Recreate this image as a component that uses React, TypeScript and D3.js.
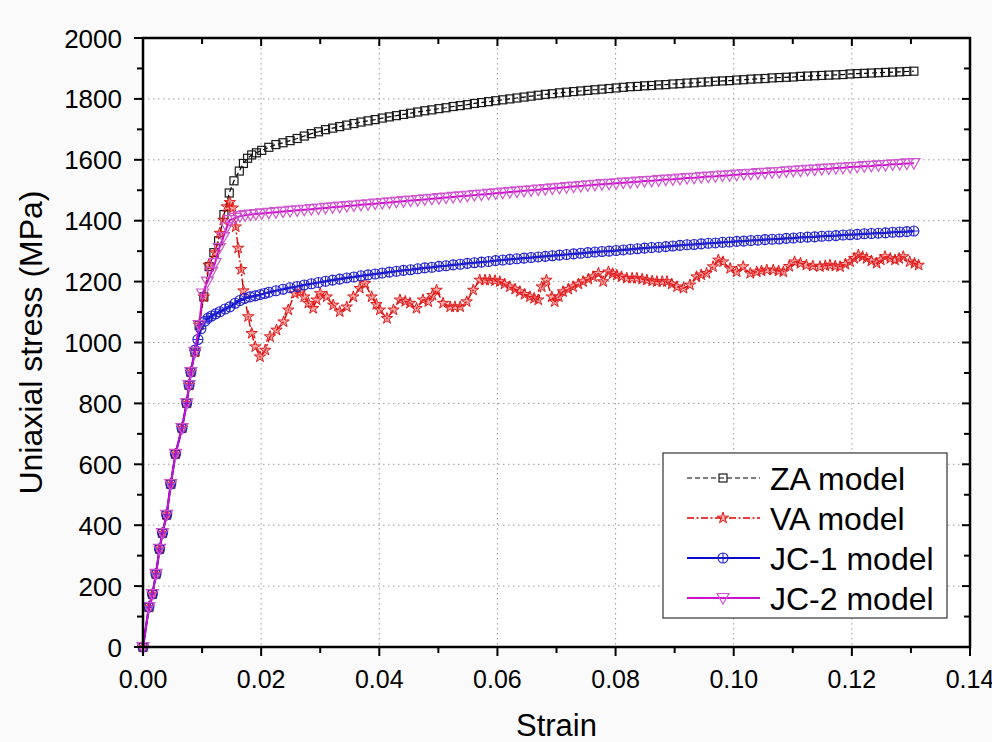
import React from 'react';
import * as d3 from 'd3';

// ---------- data ----------
const elasticStrain = [0, 0.001, 0.0016, 0.0022, 0.0028, 0.0033, 0.004, 0.0047, 0.0055, 0.0066, 0.0074, 0.0078, 0.0081, 0.0088, 0.0095];
const elasticStress = [0, 131, 174, 240, 322, 374, 434, 535, 634, 719, 801, 860, 903, 969, 1057];

const zaEarly: [number, number][] = [
  [0.0103, 1150], [0.0112, 1249], [0.012, 1295], [0.0128, 1334], [0.0137, 1420], [0.0146, 1491], [0.0154, 1531],
  [0.0163, 1563], [0.017, 1588], [0.0177, 1605], [0.0184, 1616], [0.0192, 1623], [0.0201, 1631],
];
const jc1Early: [number, number][] = [
  [0.0088, 975], [0.0093, 1010], [0.0098, 1045], [0.0105, 1070], [0.011, 1080], [0.0116, 1087], [0.0123, 1094], [0.013, 1101], [0.0139, 1110],
  [0.0147, 1117], [0.0156, 1129], [0.0164, 1138], [0.0172, 1145], [0.0181, 1150], [0.019, 1153], [0.0198, 1157], [0.0206, 1161],
];
const jc2Early: [number, number][] = [
  [0.0101, 1161], [0.0109, 1200], [0.0116, 1232], [0.0122, 1261], [0.0129, 1310], [0.0136, 1346], [0.0142, 1379],
  [0.0147, 1402], [0.0156, 1409], [0.0164, 1415], [0.0173, 1418], [0.0182, 1420], [0.0191, 1422], [0.0201, 1424],
];
const vaPoints: [number, number][] = [
  [0.0103, 1150], [0.0111, 1254], [0.0122, 1295], [0.013, 1359], [0.0136, 1402], [0.0142, 1446], [0.0147, 1460], [0.0152, 1442],
  [0.0157, 1380], [0.0161, 1310], [0.0166, 1240], [0.017, 1170], [0.0178, 1085], [0.0184, 1030], [0.019, 986], [0.0198, 953],
  [0.0207, 975], [0.0215, 1019], [0.0226, 1041], [0.0238, 1068], [0.0246, 1107], [0.0257, 1161], [0.0266, 1167], [0.0273, 1150],
  [0.028, 1129], [0.0288, 1112], [0.0294, 1140], [0.03, 1161], [0.0311, 1150], [0.0322, 1123], [0.0333, 1101], [0.0345, 1117],
  [0.0356, 1150], [0.0367, 1178], [0.0376, 1194], [0.0387, 1150], [0.0395, 1125], [0.0401, 1107], [0.0413, 1079], [0.0424, 1107],
  [0.0435, 1140], [0.0444, 1135], [0.0452, 1129], [0.0463, 1112], [0.0474, 1140], [0.0483, 1134], [0.049, 1155], [0.0497, 1172],
  [0.0508, 1129], [0.052, 1117], [0.0528, 1117], [0.0537, 1117], [0.0548, 1134], [0.0559, 1172], [0.057, 1205], [0.0579, 1205],
  [0.0587, 1205], [0.0596, 1203], [0.0604, 1200], [0.0612, 1192], [0.0621, 1183], [0.063, 1175], [0.0638, 1167], [0.0646, 1158],
  [0.0655, 1150], [0.0662, 1145], [0.0669, 1140], [0.0675, 1183], [0.0683, 1205], [0.0692, 1150], [0.0697, 1134], [0.0704, 1150],
  [0.0711, 1167], [0.072, 1175], [0.0728, 1183], [0.0737, 1192], [0.0745, 1200], [0.0754, 1208], [0.0762, 1216], [0.0771, 1227],
  [0.0779, 1200], [0.0788, 1232], [0.0795, 1226], [0.0802, 1221], [0.081, 1216], [0.0819, 1211], [0.0828, 1211], [0.0836, 1211],
  [0.0845, 1208], [0.0853, 1205], [0.0862, 1202], [0.087, 1200], [0.0879, 1200], [0.0887, 1200], [0.0895, 1192], [0.0904, 1183],
  [0.0915, 1178], [0.0926, 1189], [0.0937, 1216], [0.0945, 1222], [0.0954, 1227], [0.0965, 1249], [0.0974, 1271], [0.0982, 1265],
  [0.0994, 1243], [0.1005, 1232], [0.1016, 1249], [0.1028, 1227], [0.1039, 1232], [0.1047, 1235], [0.1056, 1238], [0.1067, 1238],
  [0.1076, 1235], [0.1084, 1232], [0.1094, 1250], [0.1103, 1265], [0.1113, 1260], [0.1123, 1254], [0.1134, 1251], [0.1146, 1249],
  [0.1155, 1252], [0.1163, 1254], [0.1172, 1251], [0.118, 1249], [0.1189, 1257], [0.1197, 1265], [0.1204, 1276], [0.1211, 1287],
  [0.1218, 1282], [0.1225, 1276], [0.1233, 1268], [0.1242, 1260], [0.1249, 1271], [0.1256, 1282], [0.1265, 1276], [0.1273, 1271],
  [0.128, 1276], [0.1287, 1282], [0.1298, 1265], [0.1306, 1260], [0.1313, 1254],
];

const gridStrain = [
  0.0213, 0.0225, 0.0237, 0.0249, 0.0261, 0.0273, 0.0285, 0.0297, 0.0309, 0.0321,
  0.0333, 0.0345, 0.0357, 0.0369, 0.0381, 0.0393, 0.0405, 0.0417, 0.0429, 0.0441,
  0.0453, 0.0465, 0.0477, 0.0489, 0.0501, 0.0513, 0.0525, 0.0537, 0.0549, 0.0561,
  0.0573, 0.0585, 0.0597, 0.0609, 0.0621, 0.0633, 0.0645, 0.0657, 0.0669, 0.0681,
  0.0693, 0.0705, 0.0717, 0.0729, 0.0741, 0.0753, 0.0765, 0.0777, 0.0789, 0.0801,
  0.0813, 0.0825, 0.0837, 0.0849, 0.0861, 0.0873, 0.0885, 0.0897, 0.0909, 0.0921,
  0.0933, 0.0945, 0.0957, 0.0969, 0.0981, 0.0993, 0.1005, 0.1017, 0.1029, 0.1041,
  0.1053, 0.1065, 0.1077, 0.1089, 0.1101, 0.1113, 0.1125, 0.1137, 0.1149, 0.1161,
  0.1173, 0.1185, 0.1197, 0.1209, 0.1221, 0.1233, 0.1245, 0.1257, 0.1269, 0.1281,
  0.1293, 0.1305,
];
const zaGrid = [
  1641, 1650, 1656, 1663, 1670, 1678, 1686, 1692, 1699, 1704,
  1709, 1714, 1719, 1724, 1728, 1732, 1737, 1741, 1745, 1749,
  1753, 1757, 1761, 1764, 1768, 1771, 1775, 1778, 1781, 1785,
  1788, 1791, 1794, 1797, 1800, 1803, 1806, 1809, 1812, 1815,
  1817, 1820, 1822, 1824, 1826, 1828, 1830, 1832, 1834, 1836,
  1838, 1840, 1841, 1843, 1844, 1846, 1847, 1849, 1850, 1852,
  1853, 1855, 1856, 1858, 1859, 1860, 1862, 1863, 1865, 1866,
  1867, 1869, 1870, 1871, 1872, 1874, 1875, 1876, 1877, 1878,
  1879, 1880, 1882, 1883, 1884, 1885, 1886, 1887, 1888, 1889,
  1890, 1891,
];
const jc1Grid = [
  1165, 1170, 1175, 1180, 1184, 1189, 1193, 1197, 1201, 1205,
  1208, 1212, 1215, 1219, 1222, 1225, 1228, 1231, 1234, 1237,
  1239, 1242, 1245, 1247, 1250, 1252, 1255, 1257, 1260, 1262,
  1264, 1266, 1269, 1271, 1273, 1275, 1277, 1279, 1281, 1283,
  1285, 1287, 1289, 1291, 1293, 1295, 1297, 1299, 1300, 1302,
  1304, 1306, 1308, 1310, 1312, 1313, 1315, 1317, 1319, 1321,
  1322, 1324, 1326, 1327, 1329, 1330, 1332, 1333, 1335, 1336,
  1338, 1339, 1340, 1342, 1343, 1345, 1346, 1347, 1349, 1350,
  1351, 1353, 1354, 1355, 1357, 1358, 1359, 1360, 1362, 1363,
  1364, 1366,
];
const jc2Grid = [
  1426, 1428, 1430, 1432, 1434, 1436, 1438, 1440, 1442, 1444,
  1446, 1448, 1450, 1452, 1454, 1456, 1458, 1460, 1462, 1464,
  1466, 1468, 1470, 1472, 1474, 1476, 1478, 1480, 1482, 1484,
  1486, 1488, 1490, 1492, 1494, 1496, 1498, 1500, 1502, 1504,
  1506, 1508, 1510, 1512, 1514, 1516, 1518, 1520, 1521, 1523,
  1525, 1526, 1528, 1530, 1531, 1533, 1535, 1536, 1538, 1540,
  1541, 1543, 1545, 1546, 1548, 1549, 1551, 1553, 1554, 1556,
  1557, 1559, 1560, 1562, 1564, 1565, 1567, 1568, 1570, 1571,
  1573, 1574, 1576, 1577, 1579, 1580, 1582, 1583, 1585, 1586,
  1588, 1589,
];

const xMajorTicks = [0, 0.02, 0.04, 0.06, 0.08, 0.1, 0.12, 0.14];
const xMinorTicks = [0.01, 0.03, 0.05, 0.07, 0.09, 0.11, 0.13];
const yMajorTicks = [0, 200, 400, 600, 800, 1000, 1200, 1400, 1600, 1800, 2000];
const yMinorTicks = [100, 300, 500, 700, 900, 1100, 1300, 1500, 1700, 1900];
const seriesNames = ['ZA model', 'VA model', 'JC-1 model', 'JC-2 model'];

// ---------- layout ----------
const W = 992, H = 742;
const L = 143, R = 970, T = 38, B = 647;
const FONT = "'Liberation Sans', Arial, sans-serif";

const x = d3.scaleLinear().domain([0, 0.14]).range([L, R]);
const y = d3.scaleLinear().domain([0, 2000]).range([B, T]);

const elastic: [number, number][] = elasticStrain.map((s, i) => [s, elasticStress[i]]);
const grid = (vals: number[]): [number, number][] => gridStrain.map((s, i) => [s, vals[i]]);

const series = [
  { name: seriesNames[0], data: [...elastic, ...zaEarly, ...grid(zaGrid)], color: '#000000', mcolor: '#1a1a1a', dash: '5,3', width: 1.2, marker: 'square' },
  { name: seriesNames[1], data: [...elastic, ...vaPoints], color: '#e00000', mcolor: '#e01818', dash: '7,2.5,2,2.5', width: 1.4, marker: 'star' },
  { name: seriesNames[2], data: [...elastic.slice(0, 13), ...jc1Early, ...grid(jc1Grid)], color: '#0a0ac8', mcolor: '#2020d0', dash: null, width: 2.2, marker: 'circleplus' },
  { name: seriesNames[3], data: [...elastic, ...jc2Early, ...grid(jc2Grid)], color: '#cc10cc', mcolor: '#cf55cf', dash: null, width: 2, marker: 'tri' },
];

const starPath = d3.symbol(d3.symbolStar, 40)() as string;

function Marker({ type, color, cx, cy }: { type: string; color: string; cx: number; cy: number }) {
  const t = `translate(${cx},${cy})`;
  if (type === 'square') return <rect x={cx - 4} y={cy - 4} width={8} height={8} fill="none" stroke={color} strokeWidth={1.2} />;
  if (type === 'star') return <path d={starPath} transform={t} fill="#f04040" fillOpacity={0.45} stroke={color} strokeWidth={1} />;
  if (type === 'circleplus') return (
    <g transform={t} fill="none" stroke={color} strokeWidth={1.1}>
      <circle r={5} />
      <path d="M-5,0H5M0,-5V5" />
    </g>
  );
  return <path d="M-6,-4.5L6,-4.5L0,6Z" transform={t} fill="none" stroke={color} strokeWidth={1.2} />;
}

export default function App() {
  const line = d3.line<[number, number]>().x(d => x(d[0])).y(d => y(d[1]));
  return (
    <svg width={W} height={H} style={{ position: 'absolute', left: 0, top: 0, background: '#fafafa' }} fontFamily={FONT}>
      <rect x={0} y={0} width={W} height={H} fill="#fafafa" />
      <rect x={L} y={T} width={R - L} height={B - T} fill="#ffffff" />
      {/* grid */}
      <g stroke="#9a9a9a" strokeWidth={1} strokeDasharray="1.5,3.5">
        {xMajorTicks.slice(1, -1).map(t => <line key={'gx' + t} x1={x(t)} x2={x(t)} y1={T} y2={B} />)}
        {yMajorTicks.slice(1, -1).map(t => <line key={'gy' + t} x1={L} x2={R} y1={y(t)} y2={y(t)} />)}
      </g>
      {/* series */}
      {series.map(s => (
        <g key={s.name}>
          <path d={line(s.data) as string} fill="none" stroke={s.color} strokeWidth={s.width} strokeDasharray={s.dash ?? undefined} />
          {s.data.map((d, i) => <Marker key={i} type={s.marker} color={s.mcolor} cx={x(d[0])} cy={y(d[1])} />)}
        </g>
      ))}
      {/* frame */}
      <rect x={L} y={T} width={R - L} height={B - T} fill="none" stroke="#000" strokeWidth={2.5} />
      {/* ticks */}
      <g stroke="#000" strokeWidth={2}>
        {xMajorTicks.map(t => <line key={'bx' + t} x1={x(t)} x2={x(t)} y1={B} y2={B + 9} />)}
        {xMinorTicks.map(t => <line key={'bmx' + t} x1={x(t)} x2={x(t)} y1={B} y2={B + 6} />)}
        {xMajorTicks.map(t => <line key={'tx' + t} x1={x(t)} x2={x(t)} y1={T} y2={T + 8} />)}
        {xMinorTicks.map(t => <line key={'tmx' + t} x1={x(t)} x2={x(t)} y1={T} y2={T + 6} />)}
        {yMajorTicks.map(t => <line key={'ly' + t} x1={L - 9} x2={L} y1={y(t)} y2={y(t)} />)}
        {yMinorTicks.map(t => <line key={'lmy' + t} x1={L - 6} x2={L} y1={y(t)} y2={y(t)} />)}
        {yMajorTicks.map(t => <line key={'ry' + t} x1={R - 8} x2={R} y1={y(t)} y2={y(t)} />)}
        {yMinorTicks.map(t => <line key={'rmy' + t} x1={R - 6} x2={R} y1={y(t)} y2={y(t)} />)}
      </g>
      {/* tick labels */}
      <g fill="#000">
        {xMajorTicks.map(t => (
          <text key={'xl' + t} x={x(t)} y={688} textAnchor="middle" fontSize={25}>{t.toFixed(2)}</text>
        ))}
        {yMajorTicks.map(t => (
          <text key={'yl' + t} x={122} y={y(t) + 9.5} textAnchor="end" fontSize={26}>{t}</text>
        ))}
      </g>
      {/* axis titles */}
      <text x={(L + R) / 2} y={736} textAnchor="middle" fontSize={31}>Strain</text>
      <text transform={`translate(42,${(T + B) / 2}) rotate(-90)`} textAnchor="middle" fontSize={32}>Uniaxial stress (MPa)</text>
      {/* legend */}
      <g>
        <rect x={663} y={453} width={284} height={165} fill="#ffffff" stroke="#333" strokeWidth={1.2} />
        {series.map((s, i) => {
          const cy = 478 + i * 40;
          return (
            <g key={'lg' + s.name}>
              <line x1={687} x2={760} y1={cy} y2={cy} stroke={s.color} strokeWidth={s.width} strokeDasharray={s.dash ?? undefined} />
              <Marker type={s.marker} color={s.mcolor} cx={723} cy={cy} />
              <text x={770} y={cy + 11.5} fontSize={32}>{s.name}</text>
            </g>
          );
        })}
      </g>
    </svg>
  );
}
